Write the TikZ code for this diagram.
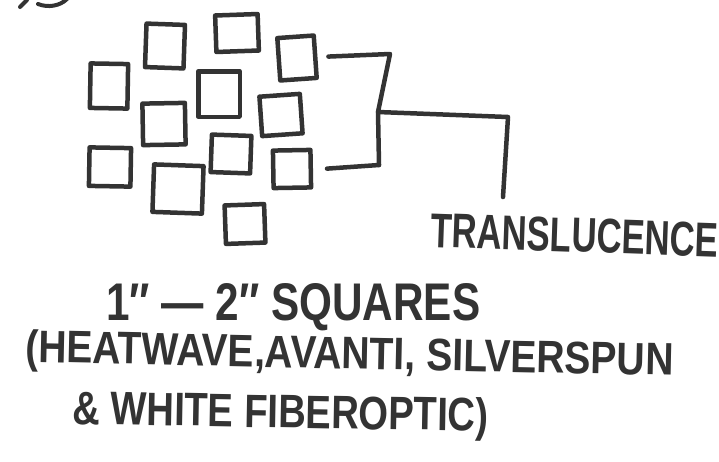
\documentclass[tikz,border=0pt]{standalone}
\usepackage{fontspec}
\setmainfont{Liberation Sans}
\usepackage{graphicx}
\usetikzlibrary{positioning,calc}
\definecolor{ink}{HTML}{333333}

\begin{document}
\begin{tikzpicture}[x=1pt, y=-1pt,
            tile/.style={draw=ink, line width=4.5pt, line join=round, inner sep=0pt},
            wire/.style={draw=ink, line width=4.5pt, line cap=round, line join=round},
            hand/.style={text=ink, font=\bfseries, inner sep=0pt, anchor=base west}]
        \useasboundingbox[fill=white] (0,0) rectangle (719,461);

        % scrap of a stroke cut off at the top edge
        \draw[wire, line width=4pt] (20,7) -- (27,0);
        \draw[wire, line width=4pt] (38,4) .. controls (48,8) and (60,6) .. (67,-1);

        % the cluster of squares
        \node[tile, minimum width=38.5pt, minimum height=43.5pt, rotate=-2] (sq1) at (165,46) {};
        \node[tile, minimum width=42.5pt, minimum height=36.5pt, rotate=2] (sq2) at (237,33) {};
        \node[tile, minimum width=36.5pt, minimum height=42.5pt, rotate=4] (sq3) at (297,58) {};
        \node[tile, minimum width=37.5pt, minimum height=44.5pt, rotate=-1] (sq4) at (109,86) {};
        \node[tile, minimum width=41.5pt, minimum height=45.5pt] (sq5) at (219,94) {};
        \node[tile, minimum width=42.5pt, minimum height=41.5pt, rotate=1] (sq6) at (164,124) {};
        \node[tile, minimum width=40.5pt, minimum height=39.5pt, rotate=4] (sq7) at (281,115) {};
        \node[tile, minimum width=41.5pt, minimum height=38.5pt, rotate=-1] (sq8) at (110,167) {};
        \node[tile, minimum width=39.5pt, minimum height=37.5pt, rotate=-2] (sq9) at (231,154) {};
        \node[tile, minimum width=37.5pt, minimum height=37.5pt, rotate=1] (sq10) at (292,169) {};
        \node[tile, minimum width=49.5pt, minimum height=47.5pt, rotate=-2] (sq11) at (178,189) {};
        \node[tile, minimum width=39.5pt, minimum height=38.5pt, rotate=2] (sq12) at (245,224) {};

        % bracket joints
        \coordinate (top) at (390,54);
        \coordinate (mid) at (378,112);
        \coordinate (bot) at (379,165);
        \coordinate (elbow) at (508,117);
        \coordinate (drop) at (503,197);

        \draw[wire] ([xshift=11pt]sq3.east) -- (top) -- (mid) -- (bot);
        \draw[wire] ([xshift=14pt]sq10.east) -- (bot);
        \draw[wire] (mid) -- (elbow) -- (drop);

        % labels
        \node[hand, rotate=-2] (trans) at (430,247) {\resizebox{288pt}{34pt}{TRANSLUCENCE}};
        \node[hand] (size) at (106,320) {\resizebox{374pt}{37pt}{1″ — 2″ SQUARES}};
        \node[hand, rotate=-1.2] (kinds) at (25,362) {\resizebox{648pt}{33pt}{(HEATWAVE,AVANTI, SILVERSPUN}};
        \node[hand, rotate=-1] (white) at (72,424) {\resizebox{416pt}{34pt}{\& WHITE FIBEROPTIC)}};
\end{tikzpicture}
\end{document}
